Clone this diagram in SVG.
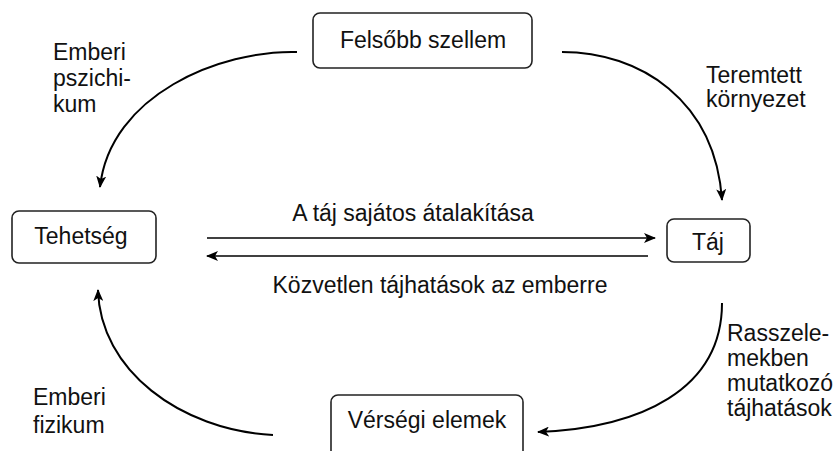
<svg xmlns="http://www.w3.org/2000/svg" width="836" height="451" viewBox="0 0 836 451">
<defs>
<marker id="ah" viewBox="0 0 12 10" refX="11" refY="5" markerWidth="12" markerHeight="10" markerUnits="userSpaceOnUse" orient="auto">
<path d="M0,0 L12,5 L0,10 L3,5 Z" fill="#000"/>
</marker>
<style>
text{font-family:"Liberation Sans",Arial,sans-serif;font-size:23px;fill:#111}
.box{fill:#fff;stroke:#222;stroke-width:1.6}
.c{fill:none;stroke:#000;stroke-width:2;marker-end:url(#ah)}
.s{fill:none;stroke:#000;stroke-width:1.6;marker-end:url(#ah)}
</style>
</defs>
<rect width="836" height="451" fill="#fff"/>
<g id="felsobb">
<rect class="box" x="313" y="13" width="219" height="55" rx="7"/>
<text x="423" y="48" text-anchor="middle">Felsőbb szellem</text>
</g>
<g id="tehetseg">
<rect class="box" x="12" y="211" width="144" height="52" rx="7"/>
<text x="81" y="244" text-anchor="middle">Tehetség</text>
</g>
<g id="taj">
<rect class="box" x="667" y="219" width="83" height="43" rx="7"/>
<text x="708" y="250" text-anchor="middle">Táj</text>
</g>
<g id="versegi">
<rect class="box" x="331" y="395" width="192" height="80" rx="7"/>
<text x="427" y="428" text-anchor="middle">Vérségi elemek</text>
</g>
<g id="connectors">
<path class="c" d="M297,52 C220,50 110,95 100,187"/>
<path class="c" d="M562,52 C640,52 715,100 722,200"/>
<path class="c" d="M273,435 C180,430 100,370 98,290"/>
<path class="c" d="M722,303 C722,390 640,428 538,432"/>
<path class="s" d="M207,238 L655,238"/>
<path class="s" d="M648,256 L207,256"/>
</g>
<g id="labels">
<text x="53" y="60">Emberi</text>
<text x="53" y="86">pszichi-</text>
<text x="53" y="112">kum</text>
<text x="706" y="83">Teremtett</text>
<text x="706" y="107">környezet</text>
<text x="413" y="221" text-anchor="middle">A táj sajátos átalakítása</text>
<text x="440" y="293" text-anchor="middle">Közvetlen tájhatások az emberre</text>
<text x="33" y="405">Emberi</text>
<text x="33" y="433">fizikum</text>
<text x="727" y="341">Rasszele-</text>
<text x="727" y="366">mekben</text>
<text x="727" y="391">mutatkozó</text>
<text x="727" y="416">tájhatások</text>
</g>
</svg>
